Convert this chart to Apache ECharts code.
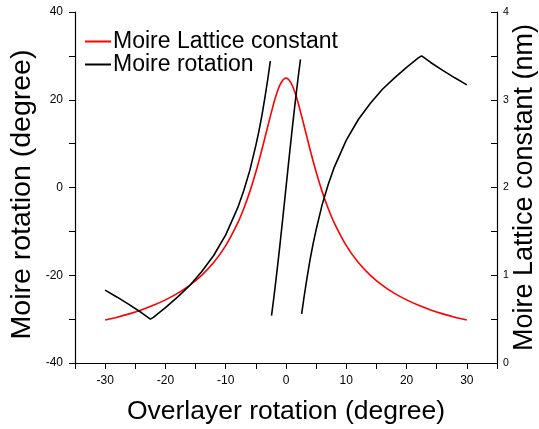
<!DOCTYPE html>
<html>
<head>
<meta charset="utf-8">
<script src="https://cdn.jsdelivr.net/npm/echarts@6/dist/echarts.min.js"></script>
<style>html,body{margin:0;padding:0;background:#fff}#c{width:539px;height:429px}</style>
</head>
<body>
<div id="c"></div>
<script>
// Overlayer rotation (degree)
var latticeAngles = [-30,-28,-26,-24,-22,-20,-18,-16,-14,-12,-10,-8,-7,-6,-5,-4,-3,-2,-1.5,-1,-0.5,0,0.5,1,1.5,2,3,4,5,6,7,8,10,12,14,16,18,20,22,24,26,28,30];
// Moire lattice constant (nm)
var latticeValues = [0.489,0.522,0.560,0.605,0.657,0.719,0.793,0.885,0.999,1.145,1.338,1.597,1.761,1.953,2.176,2.430,2.704,2.968,3.080,3.169,3.226,3.246,3.226,3.169,3.080,2.968,2.704,2.430,2.176,1.953,1.761,1.597,1.338,1.145,0.999,0.885,0.793,0.719,0.657,0.605,0.560,0.522,0.489];

// Moire rotation branches (degree)
var leftAngles = [-30,-28,-26,-24,-22.5,-22,-20,-18,-16,-14,-12,-10,-8,-7,-6,-5,-4.5,-4,-3.5,-3,-2.6];
var leftValues = [-23.4,-25.0,-26.7,-28.5,-30.0,-29.6,-27.4,-25.0,-22.4,-19.2,-15.5,-10.8,-4.6,-0.7,3.9,9.6,12.8,16.4,20.5,24.9,28.8];
var midAngles = [-2.4,-2,-1.5,-1,-0.5,0,0.5,1,1.5,2,2.4];
var midValues = [-29.2,-24.9,-19.1,-13.0,-6.6,0,6.6,13.0,19.1,24.9,29.2];
var rightAngles = [2.6,3,3.5,4,4.5,5,6,7,8,10,12,14,16,18,20,22,22.5,24,26,28,30];
var rightValues = [-28.8,-24.9,-20.5,-16.4,-12.8,-9.6,-3.9,0.7,4.6,10.8,15.5,19.2,22.4,25.0,27.4,29.6,30.0,28.5,26.7,25.0,23.4];

var xTicks = [-30,-20,-10,0,10,20,30];
var leftTicks = [-40,-20,0,20,40];
var rightTicks = [0,1,2,3,4];

function pairs(xs, ys){ return xs.map(function(x,i){ return [x, ys[i]]; }); }

var FONT = 'Liberation Sans, Arial, sans-serif';
var chart = echarts.init(document.getElementById('c'), null, {renderer:'canvas'});
chart.setOption({
  animation: false,
  backgroundColor: '#fff',
  textStyle: {fontFamily: FONT},
  grid: {left: 75, right: 42, top: 12, bottom: 66, containLabel: false, outerBoundsMode: 'none'},
  legend: {
    data: ['Moire Lattice constant', 'Moire rotation'],
    orient: 'vertical', left: 80, top: 25, itemGap: 0,
    icon: 'rect', itemWidth: 26, itemHeight: 2,
    textStyle: {fontSize: 23, lineHeight: 22, color: '#000', fontFamily: FONT, padding: [0,0,0,-3]}
  },
  xAxis: {
    type: 'value', min: -35, max: 35, interval: 5,
    name: 'Overlayer rotation (degree)', nameLocation: 'middle', nameGap: 35, nameMoveOverlap: false,
    nameTextStyle: {fontSize: 26.5, color: '#000', fontFamily: FONT},
    axisLine: {onZero: false, lineStyle: {color: '#000', width: 1.2}},
    axisTick: {inside: false, length: 6, lineStyle: {color: '#000'}},
    axisLabel: {margin: 12, fontSize: 12, color: '#000', fontFamily: FONT,
      formatter: function(v){ return xTicks.indexOf(v) >= 0 ? String(v) : ''; }},
    splitLine: {show: false}
  },
  yAxis: [{
    type: 'value', min: -40, max: 40, interval: 10, position: 'left',
    name: 'Moire rotation (degree)', nameLocation: 'middle', nameGap: 38, nameMoveOverlap: false,
    nameTextStyle: {fontSize: 28.5, color: '#000', fontFamily: FONT, padding: [0, 14, 0, 0]},
    axisLine: {show: true, onZero: false, lineStyle: {color: '#000', width: 1.2}},
    axisTick: {show: true, inside: false, length: 6, lineStyle: {color: '#000'}},
    axisLabel: {margin: 12, fontSize: 12, color: '#000', fontFamily: FONT,
      formatter: function(v){ return leftTicks.indexOf(v) >= 0 ? String(v) : ''; }},
    splitLine: {show: false}
  }, {
    type: 'value', min: 0, max: 4, interval: 0.5, position: 'right',
    name: 'Moire Lattice constant (nm)', nameLocation: 'middle', nameGap: 14, nameMoveOverlap: false,
    nameRotate: 90,
    nameTextStyle: {fontSize: 27, color: '#000', fontFamily: FONT},
    axisLine: {show: true, onZero: false, lineStyle: {color: '#000', width: 1.2}},
    axisTick: {show: true, inside: true, length: 6, lineStyle: {color: '#000'}},
    axisLabel: {margin: 6, fontSize: 10.5, color: '#000', fontFamily: FONT,
      formatter: function(v){ return rightTicks.indexOf(v) >= 0 ? String(v) : ''; }},
    splitLine: {show: false}
  }],
  series: [{
    name: 'Moire Lattice constant', type: 'line', yAxisIndex: 1,
    data: pairs(latticeAngles, latticeValues), smooth: 0.2,
    showSymbol: false, color: '#ff0000', lineStyle: {color: '#ff0000', width: 1.6}
  }, {
    name: 'Moire rotation', type: 'line', yAxisIndex: 0,
    data: pairs(leftAngles, leftValues), showSymbol: false,
    color: '#000', lineStyle: {color: '#000', width: 1.6}
  }, {
    name: 'Moire rotation', type: 'line', yAxisIndex: 0,
    data: pairs(midAngles, midValues), showSymbol: false,
    color: '#000', lineStyle: {color: '#000', width: 1.6}
  }, {
    name: 'Moire rotation', type: 'line', yAxisIndex: 0,
    data: pairs(rightAngles, rightValues), showSymbol: false,
    color: '#000', lineStyle: {color: '#000', width: 1.6}
  }]
});
</script>
</body>
</html>
